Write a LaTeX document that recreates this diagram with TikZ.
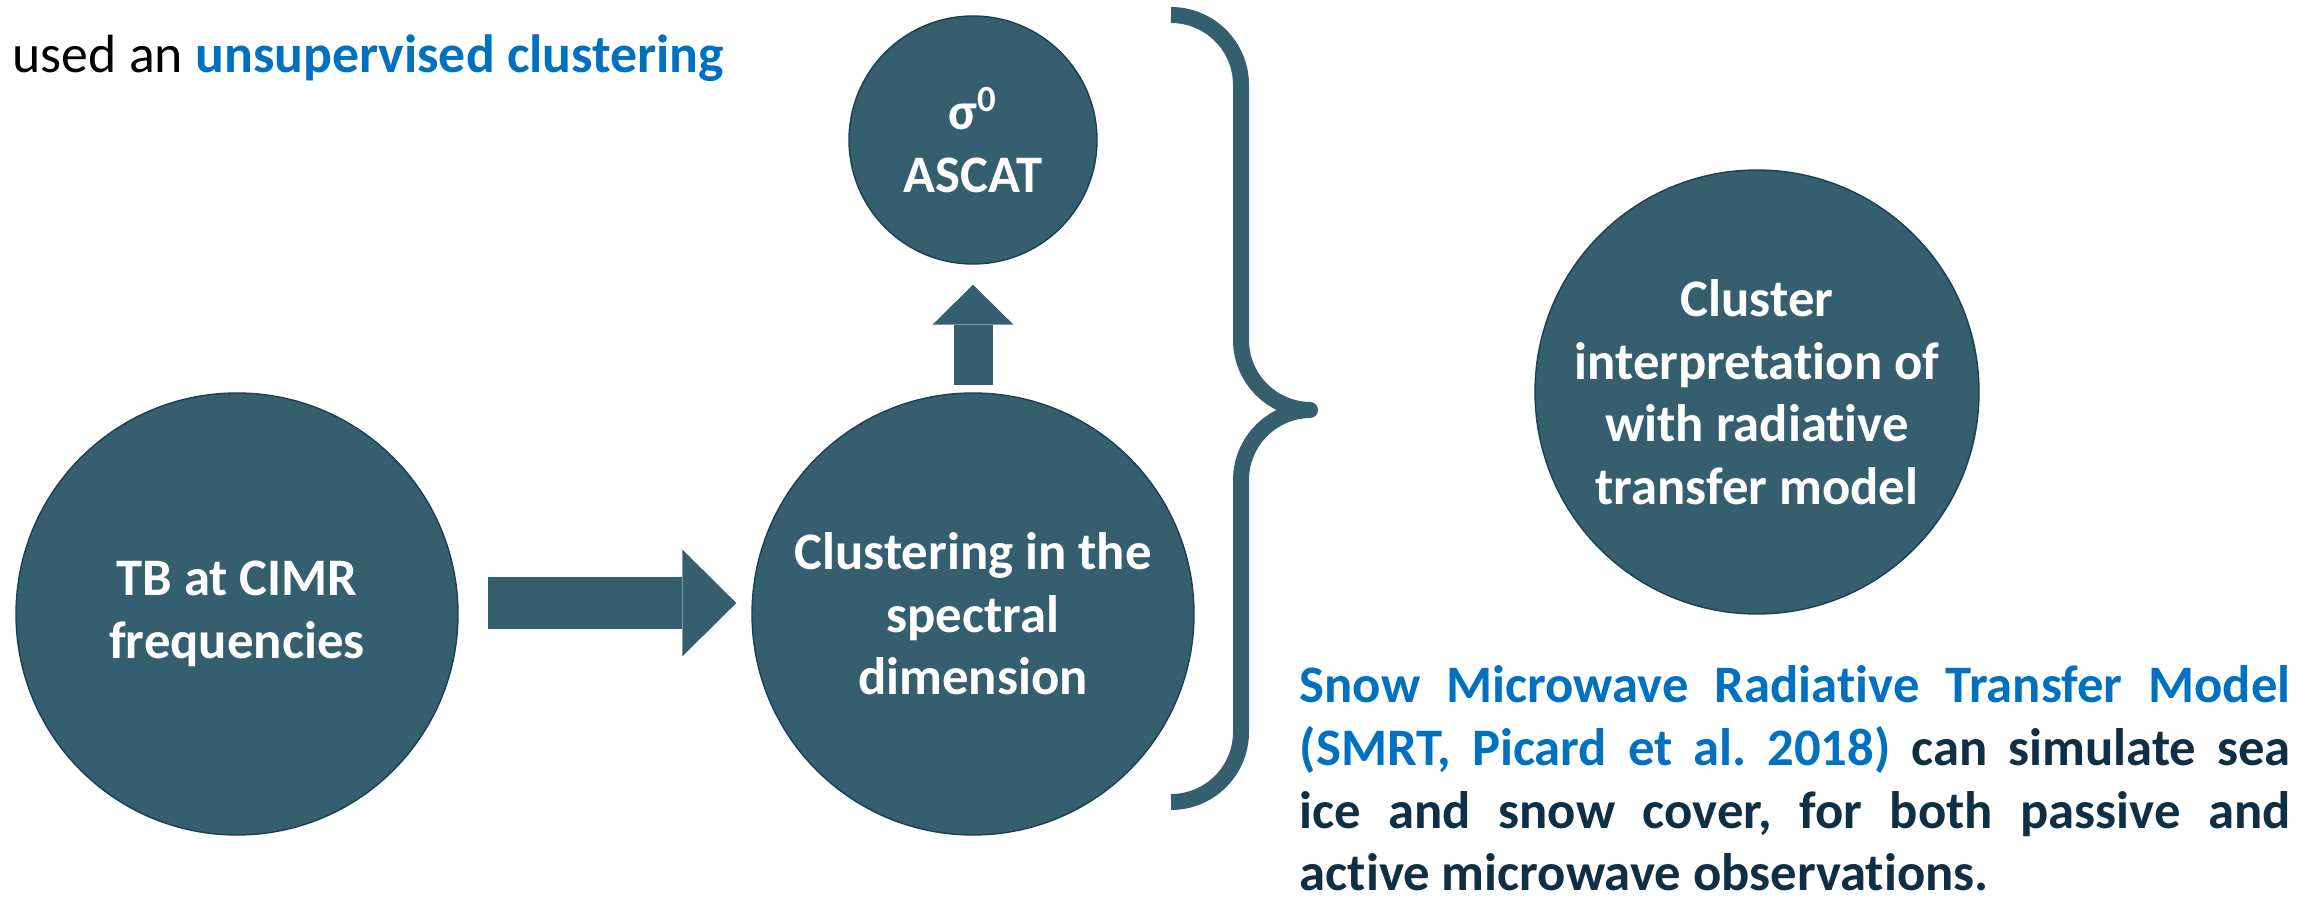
\documentclass[tikz,border=0pt]{standalone}
\usepackage{fontspec}
\setmainfont{Carlito}[Ligatures=NoCommon]
\usetikzlibrary{arrows.meta}
\definecolor{circfill}{HTML}{355F6E}
\definecolor{circline}{HTML}{1D3F50}
\definecolor{txtblue}{HTML}{0070C0}
\definecolor{txtdark}{HTML}{0E2F44}
\frenchspacing

\begin{document}
\begin{tikzpicture}[
  x=0.1mm, y=-0.1mm,
  every node/.style={font=\fontsize{15pt}{17.8pt}\selectfont},
  bubble/.style={circle,fill=circfill,draw=circline,line width=0.4pt,
    text=white,font=\fontsize{15pt}{17.8pt}\selectfont\bfseries,
    align=center,inner sep=0pt},
  blockarr/.style n args={3}{circfill,line width=#1,
    -{Triangle[length=#2,width=#3,line width=0pt]}},
  brace/.style={circfill,line width=1.6mm,rounded corners=7mm}
]
\useasboundingbox (0,0) rectangle (2320,901);
% the four circles
\node[bubble,minimum size=44.2mm] (tb) at (237,614) {TB at CIMR\\frequencies};
\node[bubble,minimum size=44.2mm] (clust) at (973,614)
  {Clustering in the\\spectral\\dimension};
\node[bubble,minimum size=24.8mm] (ascat) at (973,140) {σ\textsuperscript{0}\\ASCAT};
\node[bubble,minimum size=44.4mm] (interp) at (1757,392)
  {Cluster\\interpretation of\\with radiative\\transfer model};
% block arrows
\draw[blockarr={5.2mm}{5.4mm}{10.7mm},shorten <=2.9mm,shorten >=1.5mm]
  (tb.east |- 0,603) -- (clust.west |- 0,603);
\draw[blockarr={3.9mm}{4mm}{8.1mm},shorten <=0.7mm,shorten >=2mm]
  (clust.north) -- (ascat.south);
% curly brace
\draw[brace] (1171,15) -| (1241,410) -- (1310,410);
\draw[brace] (1310,410) -| (1241,802) -- (1171,802);
\fill[circfill] (1310,410) circle (0.8mm);
% texts
\node[anchor=base west,inner sep=0pt,font=\fontsize{15.3pt}{18pt}\selectfont] (lead) at (12,73)
  {used an \textcolor{txtblue}{\bfseries unsupervised clustering}};
\node[anchor=base west,inner sep=0pt,text width=99.1mm,align=justify,
  text=txtdark,font=\fontsize{15pt}{17.8pt}\selectfont\bfseries] (smrt) at (1299,703)
  {\textcolor{txtblue}{Snow Microwave Radiative Transfer Model\linebreak
   (SMRT, Picard et al. 2018)} can simulate sea\linebreak
   ice and snow cover, for both passive and\linebreak
   active microwave observations.};
\end{tikzpicture}
\end{document}
